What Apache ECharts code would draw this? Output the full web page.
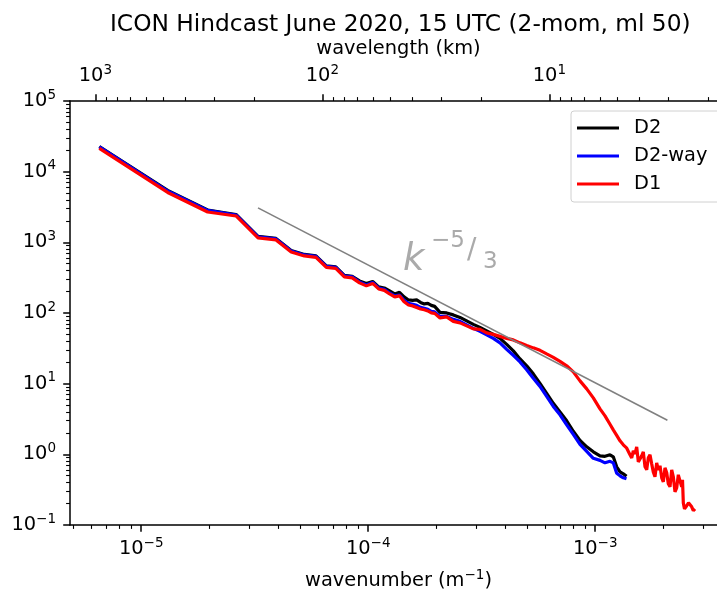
<!DOCTYPE html>
<html>
<head>
<meta charset="utf-8">
<script src="https://cdn.jsdelivr.net/npm/echarts@6/dist/echarts.min.js"></script>
<style>
  html, body { margin: 0; padding: 0; background: #fff; }
  #chart { width: 717px; height: 594px; }
</style>
</head>
<body>
<div id="chart"></div>
<script>
// wavenumber samples (1/m), shared by all curves; D2 and D2-way stop at 1.3736e-3
const wavenumber = [
  6.54e-6, 1.308e-5, 1.962e-5, 2.616e-5, 3.27e-5, 3.924e-5, 4.578e-5, 5.232e-5, 5.886e-5, 6.54e-5,
  7.194e-5, 7.848e-5, 8.502e-5, 9.156e-5, 9.81e-5, 1.0464e-4, 1.1118e-4, 1.1772e-4, 1.2426e-4, 1.308e-4,
  1.3734e-4, 1.4388e-4, 1.5042e-4, 1.5696e-4, 1.635e-4, 1.7004e-4, 1.7658e-4, 1.8312e-4, 1.8966e-4, 1.962e-4,
  2.071e-4, 2.216e-4, 2.370e-4, 2.537e-4, 2.715e-4, 2.904e-4, 3.108e-4, 3.327e-4, 3.557e-4, 3.807e-4,
  4.074e-4, 4.357e-4, 4.663e-4, 4.991e-4, 5.336e-4, 5.711e-4, 6.112e-4, 6.537e-4, 6.996e-4, 7.488e-4,
  8.008e-4, 8.570e-4, 9.175e-4, 9.809e-4, 1.0498e-3, 1.1045e-3, 1.1619e-3, 1.2013e-3, 1.2436e-3, 1.2861e-3,
  1.3297e-3, 1.3736e-3,
  1.399e-3, 1.4232e-3, 1.4481e-3, 1.4716e-3, 1.4972e-3, 1.5233e-3, 1.5484e-3, 1.5754e-3, 1.6024e-3, 1.6289e-3,
  1.6573e-3, 1.6862e-3, 1.7135e-3, 1.7433e-3, 1.7736e-3, 1.8024e-3, 1.8338e-3, 1.8658e-3, 1.8967e-3, 1.9297e-3,
  1.9634e-3, 1.9953e-3, 2.0297e-3, 2.0654e-3, 2.0989e-3, 2.1355e-3, 2.1727e-3, 2.2086e-3, 2.2465e-3, 2.2856e-3,
  2.3233e-3, 2.3637e-3, 2.4044e-3, 2.4244e-3, 2.4441e-3, 2.4740e-3, 2.5293e-3, 2.5763e-3, 2.6614e-3, 2.7051e-3,
  2.7516e-3
];

const d2 = [
  22700, 5420, 2870, 2480, 1212, 1136, 768, 674, 642, 464,
  449, 340, 329, 284, 262, 280, 234, 226, 205, 186,
  196, 169, 153, 151, 153, 141, 134.5, 136.7, 128.1, 124.0,
  102.0, 100.3, 94.0, 86.7, 77.3, 69.0, 62.6, 55.8, 49.8, 43.7,
  36.0, 29.1, 22.4, 17.9, 13.76, 10.10, 7.29, 5.27, 3.99, 2.98,
  2.12, 1.578, 1.277, 1.085, 0.952, 0.937, 0.984, 0.922, 0.666, 0.565,
  0.530, 0.488
];

const d2Way = [
  22400, 5330, 2830, 2440, 1192, 1117, 756, 663, 632, 456,
  442, 335, 324, 275, 250, 271, 226, 216, 192, 175,
  180, 151, 136.7, 132.3, 128.1, 120, 116.2, 112.4, 105.3, 103.6,
  89.5, 89.5, 81.2, 76.1, 67.9, 60.6, 54.9, 49.0, 43.7, 37.8,
  30.6, 25.1, 20.3, 15.7, 11.9, 9.16, 6.61, 4.77, 3.62, 2.61,
  1.918, 1.385, 1.103, 0.878, 0.822, 0.758, 0.796, 0.758, 0.539, 0.497,
  0.465, 0.450
];

const d1 = [
  21300, 5080, 2690, 2360, 1154, 1081, 731, 642, 611, 442,
  427, 324, 314, 267, 242, 262, 219, 209, 186, 169,
  175, 144, 130, 126, 120, 114, 111, 107, 100.3, 98.7,
  85.2, 88.1, 76.1, 72.4, 65.7, 59.6, 58.6, 52.3, 49.8, 46.7,
  43.7, 41.6, 37.8, 34.8, 32.1, 29.6, 26.4, 23.6, 20.7, 17.9,
  14.7, 10.96, 8.44, 6.30, 4.40, 3.50, 2.66, 2.22, 1.857, 1.552,
  1.363, 1.236,
  1.196, 0.984, 0.892, 1.121, 1.016, 1.277, 0.783, 0.758, 0.952, 1.085,
  0.666, 0.604, 0.892, 0.984, 0.734, 0.565, 0.481, 0.758, 0.604, 0.688,
  0.465, 0.408, 0.644, 0.547, 0.383, 0.347, 0.604, 0.481, 0.295, 0.336,
  0.513, 0.481, 0.347, 0.436, 0.206, 0.169, 0.187, 0.206, 0.181, 0.159,
  0.169
];

// k^-5/3 reference line
const refK = [3.27e-5, 2.08e-3];
const refVal = [3070, 3.03];

// ticks
const xMajor = [1e-5, 1e-4, 1e-3];
const yMajor = [1e-1, 1e0, 1e1, 1e2, 1e3, 1e4, 1e5];
const wavelengthMajorKm = [1000, 100, 10];
const mantissas = [2, 3, 4, 5, 6, 7, 8, 9];

const X_MIN = -5.3137, X_MAX = -2.4194;
const Y_MIN = -1, Y_MAX = 5;
const FONT = 'DejaVu Sans';
const MINUS = '\u2212';

const lg = Math.log10;
const kmToK = km => 2 * Math.PI / (km * 1000);
const pairs = (vals) => vals.map((v, i) => [lg(wavenumber[i]), lg(v)]);
const expText = e => (e < 0 ? MINUS + Math.abs(e) : String(e));
const powLabel = e => '{b|10}{s|' + expText(e) + '}';

function minorDecades(lo, hi, toPos) {
  const out = [];
  for (let e = -7; e <= 6; e++) {
    mantissas.forEach(m => {
      const p = toPos(m * Math.pow(10, e));
      if (p >= lo && p <= hi) out.push(p);
    });
  }
  return out;
}

const xMinor = minorDecades(X_MIN, X_MAX, lg);
const yMinor = minorDecades(Y_MIN, Y_MAX, lg);
const topMajor = wavelengthMajorKm.map(km => lg(kmToK(km)));
const topMinor = minorDecades(X_MIN, X_MAX, km => lg(kmToK(km)));

const rich = {
  b: { fontSize: 19.4, fontFamily: FONT, color: '#000', lineHeight: 26 },
  s: { fontSize: 13.5, fontFamily: FONT, color: '#000', lineHeight: 14, verticalAlign: 'top' }
};

const line = { show: true, onZero: false, lineStyle: { color: '#000', width: 1.5 } };
const majorTick = { color: '#000', width: 1.5 };
const minorTick = { color: '#000', width: 1.1 };

function axisBase(extra) {
  return Object.assign({
    type: 'value',
    splitLine: { show: false },
    axisLine: { show: false, onZero: false },
    axisLabel: { show: false },
    axisTick: { show: false }
  }, extra);
}

const chart = echarts.init(document.getElementById('chart'));

const option = {
  animation: false,
  backgroundColor: '#fff',
  title: {
    text: 'ICON Hindcast June 2020, 15 UTC (2-mom, ml 50)',
    left: 105,
    top: 8,
    textStyle: { fontSize: 23.3, fontWeight: 'normal', fontFamily: FONT, color: '#000' }
  },
  legend: {
    data: ['D2', 'D2-way', 'D1'],
    orient: 'vertical',
    left: 571,
    top: 111,
    padding: [7, 13, 8, 6],
    itemWidth: 42,
    itemHeight: 3,
    itemGap: 8,
    icon: 'rect',
    borderColor: '#d0d0d0',
    borderWidth: 1,
    borderRadius: 3,
    backgroundColor: 'rgba(255,255,255,0.8)',
    textStyle: { fontSize: 19.4, fontFamily: FONT, color: '#000', padding: [0, 0, 0, 10], lineHeight: 20 }
  },
  grid: { left: 70, right: -10, top: 101, bottom: 69, outerBoundsMode: 'none', containLabel: false },
  xAxis: [
    axisBase({
      min: X_MIN, max: X_MAX, position: 'bottom',
      axisLine: line,
      axisTick: { show: true, inside: false, length: 6.8, customValues: xMajor.map(lg), lineStyle: majorTick },
      axisLabel: { show: true, customValues: xMajor.map(lg), margin: 11, formatter: v => powLabel(Math.round(v)), rich: rich },
      name: 'wavenumber (m{s|' + MINUS + '1})',
      nameLocation: 'middle',
      nameGap: 43,
      nameTextStyle: { fontSize: 19.4, fontFamily: FONT, color: '#000', lineHeight: 26, rich: rich }
    }),
    axisBase({
      min: X_MIN, max: X_MAX, position: 'bottom',
      axisTick: { show: true, inside: false, length: 3.9, customValues: xMinor, lineStyle: minorTick }
    }),
    axisBase({
      min: X_MIN, max: X_MAX, position: 'top',
      axisLine: line,
      axisTick: { show: true, inside: false, length: 6.8, customValues: topMajor, lineStyle: majorTick },
      axisLabel: {
        show: true, customValues: topMajor, margin: 12,
        formatter: v => powLabel(Math.round(lg(2 * Math.PI / Math.pow(10, v) / 1000))),
        rich: rich
      },
      name: 'wavelength (km)',
      nameLocation: 'middle',
      nameGap: 43,
      nameTextStyle: { fontSize: 19.4, fontFamily: FONT, color: '#000' }
    }),
    axisBase({
      min: X_MIN, max: X_MAX, position: 'top',
      axisTick: { show: true, inside: false, length: 3.9, customValues: topMinor, lineStyle: minorTick }
    })
  ],
  yAxis: [
    axisBase({
      min: Y_MIN, max: Y_MAX, position: 'left',
      axisLine: line,
      axisTick: { show: true, inside: false, length: 6.8, customValues: yMajor.map(lg), lineStyle: majorTick },
      axisLabel: { show: true, customValues: yMajor.map(lg), margin: 14, formatter: v => powLabel(Math.round(v)), rich: rich }
    }),
    axisBase({
      min: Y_MIN, max: Y_MAX, position: 'left',
      axisTick: { show: true, inside: false, length: 3.9, customValues: yMinor, lineStyle: minorTick }
    })
  ],
  graphic: [
    { type: 'text', x: 403, y: 260, style: { text: 'k', fontSize: 37, fontStyle: 'italic', fontFamily: FONT, fill: '#aaaaaa', verticalAlign: 'middle' } },
    { type: 'text', x: 431, y: 241, style: { text: MINUS + '5', fontSize: 23, fontFamily: FONT, fill: '#aaaaaa', verticalAlign: 'middle' } },
    { type: 'text', x: 467, y: 251, style: { text: '/', fontSize: 28, fontFamily: FONT, fill: '#aaaaaa', verticalAlign: 'middle' } },
    { type: 'text', x: 483, y: 262, style: { text: '3', fontSize: 23, fontFamily: FONT, fill: '#aaaaaa', verticalAlign: 'middle' } }
  ],
  series: [
    {
      name: 'D2', type: 'line', xAxisIndex: 0, yAxisIndex: 0, showSymbol: false,
      data: pairs(d2), lineStyle: { color: '#000000', width: 3.2 }, itemStyle: { color: '#000000' }
    },
    {
      name: 'D2-way', type: 'line', xAxisIndex: 0, yAxisIndex: 0, showSymbol: false,
      data: pairs(d2Way), lineStyle: { color: '#0000ff', width: 3.2 }, itemStyle: { color: '#0000ff' }
    },
    {
      name: 'D1', type: 'line', xAxisIndex: 0, yAxisIndex: 0, showSymbol: false,
      data: pairs(d1), lineStyle: { color: '#ff0000', width: 3.2 }, itemStyle: { color: '#ff0000' }
    },
    {
      name: 'ref', type: 'line', xAxisIndex: 0, yAxisIndex: 0, showSymbol: false, silent: true,
      data: refK.map((k, i) => [lg(k), lg(refVal[i])]),
      lineStyle: { color: '#808080', width: 1.6 }, itemStyle: { color: '#808080' }
    }
  ]
};

chart.setOption(option);
</script>
</body>
</html>
